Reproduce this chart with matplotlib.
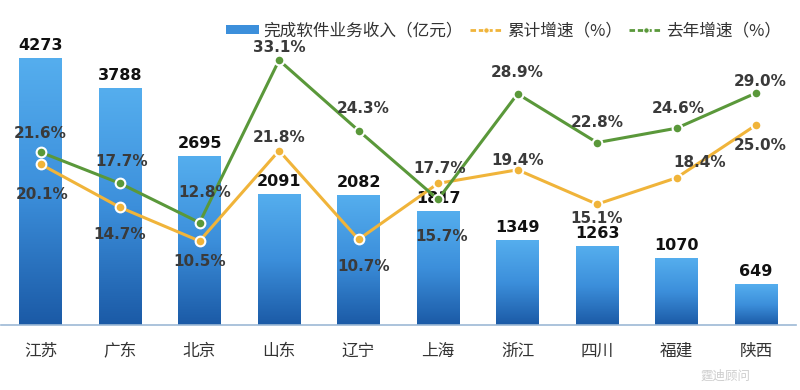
import matplotlib
matplotlib.use("Agg")
import matplotlib.pyplot as plt
import numpy as np
from matplotlib.patches import Patch
from matplotlib.lines import Line2D
from matplotlib.colors import LinearSegmentedColormap

plt.rcParams['font.family'] = ['Noto Sans CJK SC', 'DejaVu Sans']

provinces = ["江苏", "广东", "北京", "山东", "辽宁", "上海", "浙江", "四川", "福建", "陕西"]
revenue = [4273, 3788, 2695, 2091, 2082, 1817, 1349, 1263, 1070, 649]
cum_growth = [20.1, 14.7, 10.5, 21.8, 10.7, 17.7, 19.4, 15.1, 18.4, 25.0]
last_year_growth = [21.6, 17.7, 12.8, 33.1, 24.3, 15.7, 28.9, 22.8, 24.6, 29.0]

legend_labels = ["完成软件业务收入（亿元）", "累计增速（%）", "去年增速（%）"]
watermark = "霆迪顾问"

# label offsets in pixels (dx, dy; dy positive = down)
green_off = [(0, -19), (2, -22), (5, -30), (0, -13), (5, -22), (4, 37), (0, -21), (0, -20), (2, -20), (4, -12)]
yellow_off = [(2, 30), (0, 27), (0, 21), (0, -13), (5, 27), (2, -15), (0, -9), (0, 14), (23, -15), (4, 21)]

W, H = 800, 390
fig = plt.figure(figsize=(W / 100, H / 100), dpi=100)
ax = fig.add_axes([0.001, 65 / H, 795 / W, 312 / H])
x = np.arange(len(provinces))

bar_w = 0.54
bars = ax.bar(x, revenue, width=bar_w, color='none', edgecolor='none', zorder=2)
grad = np.linspace(0, 1, 256).reshape(-1, 1)
cmap = LinearSegmentedColormap.from_list("b", ["#1B5AA6", "#3C8FDB", "#55AEEE"])
for b in bars:
    x0 = b.get_x(); w = b.get_width(); h = b.get_height()
    ax.imshow(grad, extent=[x0, x0 + w, 0, h], origin='lower', cmap=cmap,
              aspect='auto', zorder=2, interpolation='bicubic')

for xi, v in zip(x, revenue):
    ax.annotate(str(v), (xi, v), xytext=(0, 4), textcoords='offset points',
                ha='center', va='bottom', fontsize=11.5, fontweight='bold',
                color='#111111', family='DejaVu Sans', zorder=5)

ax.set_xlim(-0.5, len(provinces) - 0.5)
ax.set_ylim(0, 5000)
ax.set_xticks(x)
ax.set_xticklabels(provinces, fontsize=12, color='#333333')
ax.tick_params(axis='x', length=0, pad=13)
ax.set_yticks([])
for s in ['top', 'left', 'right']:
    ax.spines[s].set_visible(False)
ax.spines['bottom'].set_color('#9DB9D6')
ax.spines['bottom'].set_linewidth(1.2)

ax2 = ax.twinx()
ax2.set_ylim(0, 39)
ax2.set_yticks([])
for s in ['top', 'left', 'right', 'bottom']:
    ax2.spines[s].set_visible(False)

yellow = '#F0B43A'
green = '#5A983A'
ax2.plot(x, cum_growth, color=yellow, lw=2.2, marker='o', ms=7,
         markerfacecolor=yellow, markeredgecolor='white', markeredgewidth=1.5, zorder=3)
ax2.plot(x, last_year_growth, color=green, lw=2.2, marker='o', ms=7,
         markerfacecolor=green, markeredgecolor='white', markeredgewidth=1.5, zorder=3)

px = 72 / 100
for xi, v, (dx, dy) in zip(x, last_year_growth, green_off):
    ax2.annotate(f"{v:.1f}%", (xi, v), xytext=(dx * px, -dy * px), textcoords='offset points',
                 ha='center', va='center', fontsize=11, fontweight='bold',
                 color='#3A3A3A', family='DejaVu Sans', zorder=6)
for xi, v, (dx, dy) in zip(x, cum_growth, yellow_off):
    ax2.annotate(f"{v:.1f}%", (xi, v), xytext=(dx * px, -dy * px), textcoords='offset points',
                 ha='center', va='center', fontsize=11, fontweight='bold',
                 color='#3A3A3A', family='DejaVu Sans', zorder=6)

handles = [Patch(facecolor='#3C8FDB', edgecolor='none'),
           Line2D([0], [0], color=yellow, lw=2, ls=(0, (2, 1)), marker='o', ms=4,
                  markeredgecolor='white', markeredgewidth=0.8),
           Line2D([0], [0], color=green, lw=2, ls=(0, (2, 1)), marker='o', ms=4,
                  markeredgecolor='white', markeredgewidth=0.8)]
fig.legend(handles, legend_labels, loc='center right', bbox_to_anchor=(788 / W, 1 - 31 / H),
           ncol=3, frameon=False, fontsize=12, handlelength=2.0, handleheight=0.5,
           columnspacing=0.4, handletextpad=0.25, labelcolor='#333333', borderaxespad=0)

fig.text(725 / W, 1 - 376 / H, watermark, fontsize=9, color='#C8C8C8', alpha=0.9,
         ha='center', va='center', zorder=0)

fig.savefig("out.png", dpi=100)
